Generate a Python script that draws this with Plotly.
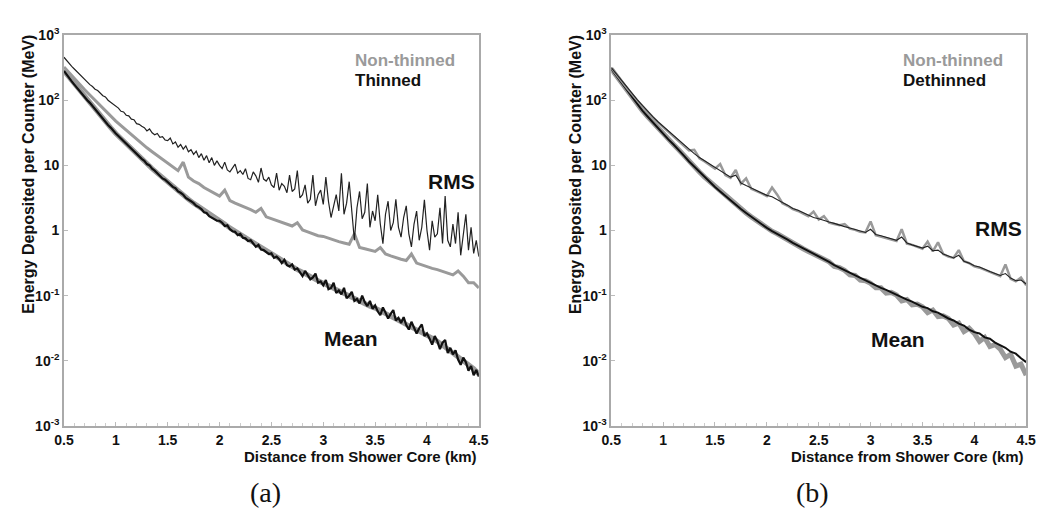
import plotly.graph_objects as go

# ---------------- data (log10 of energy in MeV) -------------
dist_fine = [round(0.5 + 0.025 * i, 3) for i in range(161)]   # km
dist = [round(0.5 + 0.05 * i, 2) for i in range(81)]          # km

# Panel (a): thinned (black) — sampled every 0.025 km
a_thinned_rms_log10 = [
    2.66, 2.61, 2.57, 2.52, 2.48, 2.44, 2.40, 2.36, 2.31, 2.28,
    2.24, 2.21, 2.17, 2.15, 2.11, 2.07, 2.05, 2.00, 1.97, 1.94,
    1.90, 1.88, 1.83, 1.82, 1.77, 1.76, 1.71, 1.70, 1.64, 1.63,
    1.60, 1.58, 1.53, 1.56, 1.50, 1.47, 1.49, 1.43, 1.44, 1.39,
    1.38, 1.42, 1.33, 1.36, 1.28, 1.32, 1.25, 1.30, 1.21, 1.24,
    1.17, 1.22, 1.12, 1.18, 1.08, 1.15, 1.04, 1.12, 1.00, 1.07,
    1.00, 0.95, 1.05, 0.93, 0.90, 0.97, 1.02, 0.88, 0.92, 0.86,
    0.95, 0.80, 0.78, 0.90, 0.84, 0.74, 0.96, 0.79, 0.76, 0.82,
    0.70, 0.66, 0.88, 0.62, 0.72, 0.68, 0.58, 0.85, 0.60, 0.64,
    0.92, 0.50, 0.55, 0.70, 0.42, 0.48, 0.85, 0.38, 0.55, 0.62,
    0.40, 0.82, 0.45, 0.20, 0.38, 0.55, 0.30, 0.88, 0.25, 0.42,
    0.75, 0.30, -0.15, 0.35, 0.60, 0.18, 0.28, 0.72, 0.05, 0.30,
    0.15, 0.55, 0.10, -0.20, 0.25, 0.45, 0.00, 0.12, 0.48, 0.05,
    -0.10, 0.20, 0.38, -0.05, -0.25, 0.10, 0.30, -0.15, 0.05, 0.47,
    0.00, -0.30, 0.15, -0.10, -0.05, 0.35, -0.20, 0.53, -0.15, -0.25,
    0.10, -0.20, 0.28, -0.38, -0.10, 0.25, -0.30, 0.05, -0.35, -0.15,
    -0.40,
]
a_thinned_mean_log10 = [
    2.45, 2.39, 2.34, 2.29, 2.24, 2.19, 2.14, 2.09, 2.05, 2.00,
    1.96, 1.91, 1.86, 1.81, 1.76, 1.72, 1.67, 1.62, 1.58, 1.53,
    1.49, 1.45, 1.41, 1.37, 1.33, 1.29, 1.26, 1.21, 1.18, 1.14,
    1.10, 1.07, 1.02, 1.00, 0.95, 0.92, 0.88, 0.85, 0.80, 0.78,
    0.74, 0.71, 0.67, 0.65, 0.60, 0.58, 0.55, 0.50, 0.48, 0.45,
    0.42, 0.38, 0.36, 0.33, 0.28, 0.27, 0.22, 0.20, 0.18, 0.15,
    0.15, 0.12, 0.07, 0.08, 0.02, -0.01, -0.02, -0.07, -0.05, -0.11,
    -0.12, -0.16, -0.15, -0.21, -0.25, -0.22, -0.29, -0.30, -0.33, -0.36,
    -0.35, -0.42, -0.40, -0.44, -0.50, -0.45, -0.53, -0.55, -0.52, -0.60,
    -0.58, -0.64, -0.70, -0.62, -0.68, -0.75, -0.72, -0.66, -0.80, -0.78,
    -0.84, -0.76, -0.90, -0.88, -0.80, -0.96, -0.92, -0.98, -0.88, -1.04,
    -1.00, -0.94, -1.08, -1.05, -1.12, -1.00, -1.10, -1.16, -1.08, -1.20,
    -1.15, -1.24, -1.30, -1.18, -1.26, -1.35, -1.28, -1.22, -1.38, -1.34,
    -1.42, -1.33, -1.45, -1.52, -1.40, -1.48, -1.58, -1.50, -1.44, -1.62,
    -1.58, -1.66, -1.75, -1.62, -1.70, -1.82, -1.72, -1.68, -1.88, -1.80,
    -1.90, -1.84, -1.98, -2.06, -1.95, -2.02, -2.15, -2.08, -2.22, -2.14,
    -2.24,
]
# Panel (a): non-thinned (gray) — sampled every 0.05 km
a_nonthinned_rms_log10 = [
    2.51, 2.42, 2.33, 2.25, 2.16,
    2.08, 2.00, 1.91, 1.84, 1.76,
    1.68, 1.61, 1.54, 1.47, 1.40,
    1.33, 1.27, 1.21, 1.15, 1.09,
    1.03, 0.98, 0.92, 1.05, 0.82,
    0.76, 0.72, 0.66, 0.62, 0.57,
    0.53, 0.62, 0.46, 0.42, 0.39,
    0.35, 0.32, 0.28, 0.34, 0.21,
    0.18, 0.16, 0.12, 0.09, 0.07,
    0.12, 0.01, -0.02, -0.05, -0.08,
    -0.09, -0.12, -0.14, -0.17, -0.19,
    -0.21, -0.05, -0.26, -0.28, -0.30,
    -0.32, -0.26, -0.36, -0.39, -0.42,
    -0.44, -0.46, -0.36, -0.50, -0.53,
    -0.55, -0.58, -0.60, -0.63, -0.65,
    -0.68, -0.62, -0.70, -0.80, -0.80,
    -0.88,
]
a_nonthinned_mean_log10 = [
    2.45, 2.35, 2.25, 2.15, 2.05,
    1.96, 1.86, 1.77, 1.67, 1.58,
    1.49, 1.41, 1.33, 1.25, 1.18,
    1.10, 1.03, 0.95, 0.88, 0.81,
    0.74, 0.68, 0.61, 0.55, 0.48,
    0.42, 0.37, 0.31, 0.26, 0.20,
    0.15, 0.10, 0.04, -0.01, -0.07,
    -0.12, -0.17, -0.22, -0.27, -0.31,
    -0.36, -0.41, -0.46, -0.50, -0.55,
    -0.60, -0.64, -0.69, -0.72, -0.77,
    -0.81, -0.85, -0.90, -0.94, -0.98,
    -1.02, -1.05, -1.09, -1.12, -1.16,
    -1.19, -1.23, -1.27, -1.31, -1.35,
    -1.39, -1.43, -1.47, -1.52, -1.56,
    -1.60, -1.65, -1.70, -1.76, -1.80,
    -1.86, -1.92, -1.98, -2.05, -2.12,
    -2.20,
]
# Panel (b): sampled every 0.05 km
b_nonthinned_rms_log10 = [
    2.50, 2.39, 2.29, 2.19, 2.09,
    2.00, 1.91, 1.82, 1.74, 1.66,
    1.59, 1.51, 1.44, 1.37, 1.30,
    1.23, 1.24, 1.11, 1.06, 1.00,
    0.95, 1.02, 0.85, 0.81, 0.93,
    0.72, 0.80, 0.64, 0.61, 0.57,
    0.53, 0.66, 0.55, 0.42, 0.38,
    0.33, 0.30, 0.26, 0.22, 0.29,
    0.17, 0.22, 0.12, 0.10, 0.08,
    0.10, 0.03, 0.01, -0.02, -0.03,
    0.14, -0.07, -0.09, -0.11, -0.13,
    -0.16, 0.02, -0.20, -0.22, -0.25,
    -0.28, -0.17, -0.32, -0.18, -0.36,
    -0.40, -0.42, -0.30, -0.47, -0.50,
    -0.55, -0.57, -0.60, -0.63, -0.66,
    -0.70, -0.52, -0.74, -0.78, -0.72,
    -0.84,
]
b_dethinned_rms_log10 = [
    2.50, 2.40, 2.30, 2.20, 2.10,
    2.01, 1.92, 1.83, 1.75, 1.67,
    1.60, 1.52, 1.45, 1.38, 1.31,
    1.24, 1.18, 1.12, 1.07, 1.01,
    0.96, 0.91, 0.86, 0.82, 0.85,
    0.73, 0.69, 0.65, 0.62, 0.58,
    0.54, 0.52, 0.47, 0.43, 0.39,
    0.34, 0.31, 0.27, 0.23, 0.20,
    0.18, 0.15, 0.13, 0.11, 0.08,
    0.06, 0.04, 0.02, -0.01, -0.03,
    0.02, -0.06, -0.08, -0.10, -0.13,
    -0.15, -0.10, -0.19, -0.22, -0.25,
    -0.27, -0.24, -0.31, -0.30, -0.36,
    -0.39, -0.42, -0.38, -0.47, -0.50,
    -0.54, -0.56, -0.60, -0.63, -0.66,
    -0.69, -0.66, -0.73, -0.77, -0.76,
    -0.82,
]
b_dethinned_mean_log10 = [
    2.48, 2.37, 2.26, 2.15, 2.04,
    1.94, 1.84, 1.75, 1.66, 1.57,
    1.49, 1.40, 1.32, 1.24, 1.15,
    1.06, 0.98, 0.90, 0.82, 0.75,
    0.67, 0.60, 0.53, 0.46, 0.40,
    0.33, 0.27, 0.21, 0.15, 0.10,
    0.04, -0.01, -0.05, -0.10, -0.14,
    -0.19, -0.23, -0.28, -0.32, -0.36,
    -0.40, -0.44, -0.48, -0.53, -0.57,
    -0.61, -0.64, -0.69, -0.72, -0.77,
    -0.81, -0.84, -0.88, -0.91, -0.95,
    -0.99, -1.02, -1.06, -1.09, -1.13,
    -1.17, -1.19, -1.24, -1.26, -1.31,
    -1.35, -1.38, -1.43, -1.46, -1.52,
    -1.56, -1.58, -1.64, -1.66, -1.72,
    -1.76, -1.80, -1.86, -1.89, -1.96,
    -2.02,
]
b_nonthinned_mean_log10 = [
    2.48, 2.37, 2.26, 2.15, 2.04,
    1.94, 1.84, 1.75, 1.66, 1.57,
    1.49, 1.40, 1.32, 1.24, 1.15,
    1.06, 0.98, 0.90, 0.82, 0.75,
    0.67, 0.60, 0.53, 0.46, 0.40,
    0.33, 0.27, 0.21, 0.15, 0.10,
    0.04, -0.01, -0.05, -0.10, -0.14,
    -0.19, -0.23, -0.28, -0.32, -0.36,
    -0.40, -0.46, -0.48, -0.55, -0.57,
    -0.61, -0.68, -0.69, -0.76, -0.77,
    -0.81, -0.88, -0.88, -0.96, -0.95,
    -0.99, -1.08, -1.06, -1.14, -1.13,
    -1.17, -1.26, -1.22, -1.32, -1.31,
    -1.35, -1.45, -1.42, -1.55, -1.50,
    -1.58, -1.70, -1.64, -1.78, -1.75,
    -1.82, -1.95, -1.90, -2.08, -2.05,
    -2.22,
]

x_tick_vals = [0.5, 1, 1.5, 2, 2.5, 3, 3.5, 4, 4.5]
x_tick_text = ["0.5", "1", "1.5", "2", "2.5", "3", "3.5", "4", "4.5"]
y_tick_vals = [1e-3, 1e-2, 1e-1, 1, 10, 100, 1000]
y_tick_text = ["10<sup>-3</sup>", "10<sup>-2</sup>", "10<sup>-1</sup>", "1", "10",
               "10<sup>2</sup>", "10<sup>3</sup>"]


def mev(vals):
    return [10 ** v for v in vals]


GRAY = "#9a9a9a"
BLACK = "#111111"
W, H = 1045, 517

fig = go.Figure()
# panel (a)
fig.add_trace(go.Scatter(x=dist, y=mev(a_nonthinned_mean_log10), mode="lines",
                         line=dict(color=GRAY, width=5), xaxis="x", yaxis="y"))
fig.add_trace(go.Scatter(x=dist, y=mev(a_nonthinned_rms_log10), mode="lines",
                         line=dict(color=GRAY, width=3), xaxis="x", yaxis="y"))
fig.add_trace(go.Scatter(x=dist_fine, y=mev(a_thinned_mean_log10), mode="lines",
                         line=dict(color=BLACK, width=2.2), xaxis="x", yaxis="y"))
fig.add_trace(go.Scatter(x=dist_fine, y=mev(a_thinned_rms_log10), mode="lines",
                         line=dict(color="#222222", width=1.2), xaxis="x", yaxis="y"))
# panel (b)
fig.add_trace(go.Scatter(x=dist, y=mev(b_nonthinned_mean_log10), mode="lines",
                         line=dict(color=GRAY, width=5), xaxis="x2", yaxis="y2"))
fig.add_trace(go.Scatter(x=dist, y=mev(b_dethinned_mean_log10), mode="lines",
                         line=dict(color=BLACK, width=2), xaxis="x2", yaxis="y2"))
fig.add_trace(go.Scatter(x=dist, y=mev(b_nonthinned_rms_log10), mode="lines",
                         line=dict(color=GRAY, width=2.5), xaxis="x2", yaxis="y2"))
fig.add_trace(go.Scatter(x=dist, y=mev(b_dethinned_rms_log10), mode="lines",
                         line=dict(color="#222222", width=1.1), xaxis="x2", yaxis="y2"))

FONT = "Liberation Sans, Arial, Helvetica, sans-serif"
tickfont = dict(family=FONT, size=14, color="#111", weight="bold")
ydom = [1 - 431 / H, 1 - 26 / H]


def xaxis(dom, anchor):
    return dict(domain=dom, anchor=anchor, range=[0.5, 4.5], tickvals=x_tick_vals,
                ticktext=x_tick_text, ticks="inside", ticklen=4, tickcolor="#bbb",
                minor=dict(dtick=0.1, ticks="inside", ticklen=3, tickcolor="#ccc"),
                showline=True, linecolor="#aaa", linewidth=1.5, mirror=True,
                showgrid=False, zeroline=False, tickfont=tickfont)


def yaxis(anchor):
    return dict(domain=ydom, anchor=anchor, type="log", range=[-3, 3],
                tickvals=y_tick_vals, ticktext=y_tick_text, ticks="inside", ticklen=4,
                tickcolor="#bbb", showline=True, linecolor="#aaa", linewidth=1.5,
                mirror=True, showgrid=False, zeroline=False, tickfont=tickfont)


fig.update_layout(
    width=W, height=H, margin=dict(l=0, r=0, t=0, b=0),
    paper_bgcolor="white", plot_bgcolor="white", showlegend=False,
    xaxis=xaxis([55 / W, 478 / W], "y"),
    yaxis=yaxis("x"),
    xaxis2=xaxis([613 / W, 1036 / W], "y2"),
    yaxis2=yaxis("x2"),
)

ann = []


def txt(x, y, s, size=15, color="#111", xanchor="center", yanchor="middle",
        angle=0, family=FONT, weight="bold"):
    ann.append(dict(x=x / W, y=1 - y / H, xref="paper", yref="paper", text=s,
                    showarrow=False, xanchor=xanchor, yanchor=yanchor, textangle=angle,
                    font=dict(family=family, size=size, color=color, weight=weight)))


for (left, right, lab1, lab2, rmsx, rmsy, meanx, meany, plab) in [
        (55, 478, "Non-thinned", "Thinned", 450, 178, 348, 340, "(a)"),
        (613, 1036, "Non-thinned", "Dethinned", 1008, 226, 905, 341, "(b)")]:
    txt(left + 295, 52, lab1, size=17, color=GRAY, xanchor="left")
    txt(left + 295, 73, lab2, size=17, color="#111", xanchor="left")
    txt(rmsx, rmsy, "RMS", size=21)
    txt(meanx, meany, "Mean", size=21)
    txt(right, 463, "Distance from Shower Core (km)", size=15, xanchor="right")
    txt(left - 37, 170, "Energy Deposited per Counter (MeV)", size=16, angle=-90)
    txt((left + right) / 2 - 6, 500, plab, size=28, family="Liberation Serif, serif",
        weight="normal")

fig.update_layout(annotations=ann)
fig.write_html("out.html")
